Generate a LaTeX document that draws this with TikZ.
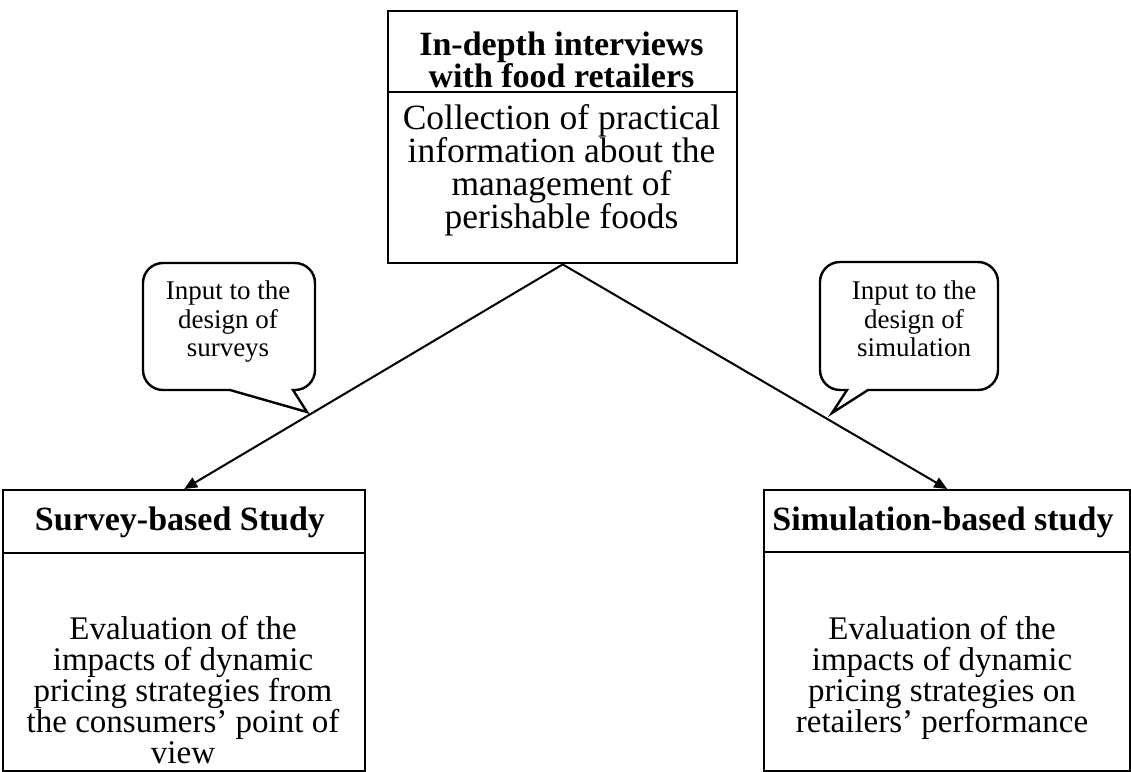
\documentclass[tikz,border=0pt]{standalone}
\usepackage{fontspec}
\setmainfont{Liberation Serif}
\usetikzlibrary{arrows.meta}
\begin{document}
\begin{tikzpicture}[x=1pt,y=-1pt,
  box/.style={draw, line width=2.4pt, inner sep=0pt, anchor=north west},
  titletxt/.style={font=\fontsize{34}{31}\selectfont\bfseries, align=center, inner sep=0pt, anchor=north},
  toptxt/.style={font=\fontsize{35.5}{32.5}\selectfont, align=center, inner sep=0pt, anchor=north},
  bottxt/.style={font=\fontsize{33}{31}\selectfont, align=center, inner sep=0pt, anchor=north},
  smalltxt/.style={font=\fontsize{27}{28.5}\selectfont, align=center, inner sep=0pt, anchor=north},
  conn/.style={line width=2pt, -{Triangle[length=13pt,width=11pt]}},
  callout/.style={line width=2.4pt, line join=miter}]
\useasboundingbox (0,0) rectangle (1131,771);
% top box
\node[box, minimum width=349pt, minimum height=81pt] (tt) at (387,10) {};
\node[box, minimum width=349pt, minimum height=171pt] (tb) at (387,91) {};
\node[titletxt] (ttx) at (561.5,32) {In-depth interviews\\with food retailers};
\node[toptxt] (tbx) at (561.5,104) {Collection of practical\\information about the\\management of\\perishable foods};
% left box
\node[box, minimum width=362pt, minimum height=63pt] (lt) at (2,489) {};
\node[box, minimum width=362pt, minimum height=218pt] (lb) at (2,552) {};
\node[titletxt] (ltx) at (180,507) {Survey-based Study};
\node[bottxt] (lbx) at (183,616) {Evaluation of the\\impacts of dynamic\\pricing strategies from\\the consumers' point of\\view};
% right box
\node[box, minimum width=366pt, minimum height=62pt] (rt) at (763,489) {};
\node[box, minimum width=366pt, minimum height=219pt] (rb) at (763,551) {};
\node[titletxt] (rtx) at (943,507) {Simulation-based study};
\node[bottxt] (rbx) at (942,616) {Evaluation of the\\impacts of dynamic\\pricing strategies on\\retailers' performance};
% connectors
\draw[conn] (tb.south) -- (lt.north);
\draw[conn] (tb.south) -- (rt.north);
% callouts
\draw[callout] (230,390) -- (307,412) -- (293,390)
  {[rounded corners=20pt] -- (315,390) -- (315,263) -- (143,263) -- (143,390)} -- cycle;
\node[smalltxt] (lc) at (228,281) {Input to the\\design of\\surveys};
\draw[callout] (868,390) -- (832,413) -- (847,390)
  {[rounded corners=20pt] -- (820,390) -- (820,262) -- (998,262) -- (998,390)} -- cycle;
\node[smalltxt] (rc) at (914,281) {Input to the\\design of\\simulation};
\end{tikzpicture}
\end{document}
